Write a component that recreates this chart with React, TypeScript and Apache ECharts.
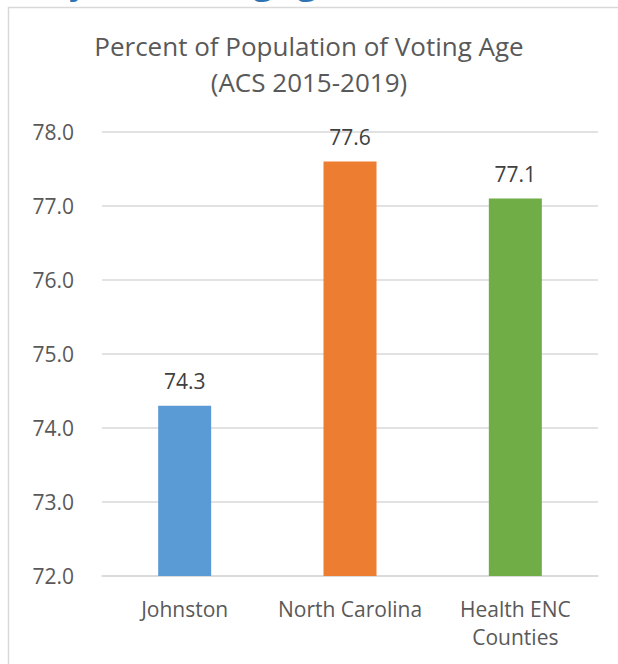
import React, { useEffect, useRef } from "react";
import * as echarts from "echarts";

const categories = ["Johnston", "North Carolina", "Health ENC\nCounties"];
const values = [74.3, 77.6, 77.1];
const barColors = ["#5B9BD5", "#ED7D31", "#70AD47"];
const yTicks = { min: 72, max: 78, interval: 1 };
const titleText = "Percent of Population of Voting Age\n(ACS 2015-2019)";
const headerText = "Community, Civic Engagement";

const FONT = "'Open Sans', sans-serif";

export default function App() {
  const ref = useRef<HTMLDivElement>(null);
  useEffect(() => {
    if (!ref.current) return;
    const chart = echarts.init(ref.current, null, { renderer: "svg" });
    chart.setOption({
      animation: false,
      backgroundColor: "#ffffff",
      textStyle: { fontFamily: FONT },
      graphic: [
        {
          type: "rect",
          shape: { x: 8.5, y: 7.5, width: 700, height: 700 },
          style: { fill: "none", stroke: "#D9D9D9", lineWidth: 1.5 },
          silent: true,
        },
        {
          type: "text",
          x: -127,
          y: -24,
          style: {
            text: headerText,
            font: `40px ${FONT}`,
            fill: "#2E74B5",
            verticalAlign: "middle",
            align: "left",
          },
          silent: true,
        },
      ],
      title: {
        text: titleText,
        left: "center",
        top: 23,
        textStyle: {
          fontFamily: FONT,
          fontSize: 26,
          fontWeight: "normal",
          color: "#595959",
          lineHeight: 36,
        },
      },
      grid: { left: 102, right: 20, top: 132, bottom: 88 },
      xAxis: {
        type: "category",
        data: categories,
        axisLine: { lineStyle: { color: "#D9D9D9", width: 1.5 } },
        axisTick: { show: false },
        axisLabel: {
          color: "#595959",
          fontSize: 21,
          fontFamily: FONT,
          lineHeight: 28,
          margin: 19,
          interval: 0,
        },
      },
      yAxis: {
        type: "value",
        min: yTicks.min,
        max: yTicks.max,
        interval: yTicks.interval,
        axisLine: { show: false },
        axisTick: { show: false },
        splitLine: { lineStyle: { color: "#D9D9D9", width: 1.5 } },
        axisLabel: {
          color: "#595959",
          fontSize: 21,
          fontFamily: FONT,
          margin: 28,
          formatter: (v: number) => v.toFixed(1),
        },
      },
      series: [
        {
          type: "bar",
          barWidth: 53,
          data: values.map((v, i) => ({ value: v, itemStyle: { color: barColors[i] } })),
          label: {
            show: true,
            position: "top",
            distance: 14,
            color: "#404040",
            fontSize: 21,
            fontFamily: FONT,
            formatter: (p: any) => Number(p.value).toFixed(1),
          },
        },
      ],
    });
    return () => chart.dispose();
  }, []);
  return (
    <div
      ref={ref}
      style={{ position: "absolute", left: 0, top: 0, width: 618, height: 664 }}
    />
  );
}
